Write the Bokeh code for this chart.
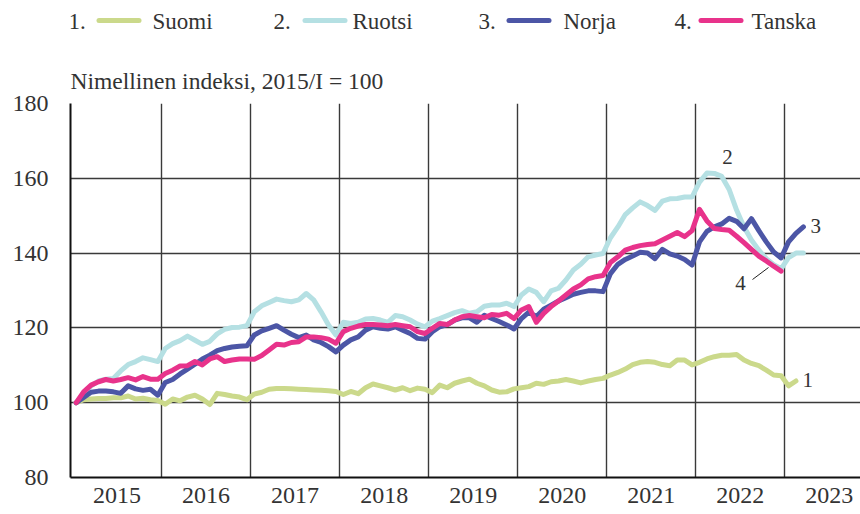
from bokeh.plotting import figure
from bokeh.layouts import column
from bokeh.models import FixedTicker, Label
from bokeh.core.properties import value
from bokeh.embed import file_html
from bokeh.resources import INLINE

# ---------------- data ----------------
series_names = ["Suomi", "Ruotsi", "Norja", "Tanska"]
series_numbers = ["1.", "2.", "3.", "4."]
end_labels = ["1", "2", "3", "4"]
year_labels = ["2015", "2016", "2017", "2018", "2019", "2020", "2021", "2022", "2023"]
y_ticks = [80, 100, 120, 140, 160, 180]
title_text = "Nimellinen indeksi, 2015/I = 100"

# monthly index values, first value = January 2015
suomi = [
    100.0, 100.8, 101.0, 101.1, 101.1, 101.3, 101.3, 101.8, 101.0, 101.2, 100.8, 100.6,
    99.6, 101.0, 100.5, 101.5, 102.0, 101.0, 99.5, 102.5, 102.2, 101.8, 101.5, 100.8,
    102.3, 102.8, 103.6, 103.8, 103.8, 103.7, 103.6, 103.5, 103.4, 103.3, 103.2, 103.0,
    102.2, 103.0, 102.4, 104.0, 105.0, 104.5, 104.0, 103.4, 104.0, 103.2, 103.9, 103.6,
    102.7, 104.7, 104.0, 105.2, 105.8, 106.3, 105.2, 104.5, 103.4, 102.8, 102.9, 103.7,
    104.0, 104.3, 105.2, 104.9, 105.6, 105.8, 106.2, 105.8, 105.3, 105.8, 106.2, 106.5,
    107.4, 108.1, 109.0, 110.2, 110.8, 111.0, 110.8, 110.2, 109.9, 111.4, 111.4, 110.1,
    110.8, 111.7, 112.3, 112.7, 112.7, 112.9, 111.4, 110.5, 109.9, 108.7, 107.4, 107.2,
    104.5, 105.8,
]
ruotsi = [
    100.0, 102.5, 104.5, 105.8, 106.3, 106.5, 108.5, 110.2, 111.0, 112.0, 111.5, 111.0,
    114.5, 115.8, 116.6, 117.8, 116.7, 115.6, 116.4, 118.4, 119.6, 120.1, 120.2, 120.6,
    124.3, 125.9, 126.8, 127.7, 127.3, 127.0, 127.5, 129.2, 127.5, 124.3, 120.8, 118.1,
    121.5, 121.2, 121.5, 122.4, 122.5, 122.1, 121.5, 123.3, 123.0, 122.1, 121.0, 120.3,
    121.8, 122.5, 123.3, 124.1, 124.6, 123.9, 124.3, 125.8, 126.1, 126.1, 126.6, 125.7,
    128.8, 130.4, 129.5, 127.0, 129.9, 130.6, 132.8, 135.5, 137.0, 139.0, 139.5, 139.9,
    144.1, 147.0, 150.3, 152.1, 153.7, 152.7, 151.4, 153.9, 154.5, 154.6, 155.0, 155.0,
    159.0, 161.4, 161.3, 160.5, 157.0, 151.5, 147.0, 143.5, 140.8, 138.5, 136.9, 135.8,
    138.8, 140.0, 140.0,
]
norja = [
    100.0, 101.4, 102.8, 103.1, 103.1, 102.9, 102.5, 104.5, 103.7, 103.3, 103.6, 102.0,
    105.4, 106.2, 107.7, 109.0, 110.3, 111.7, 112.7, 113.9, 114.5, 114.9, 115.1, 115.2,
    118.1, 119.2, 119.9, 120.6, 119.4, 118.3, 117.4, 118.1, 116.8, 116.1, 115.0, 113.6,
    115.4, 116.8, 117.6, 119.4, 120.3, 119.9, 119.7, 120.3, 119.4, 118.5, 117.2, 117.0,
    119.0, 120.3, 120.9, 122.1, 122.7, 122.7, 121.5, 123.4, 122.5, 121.7, 120.8, 119.7,
    122.5, 124.2, 123.0, 125.0, 126.1, 127.2, 128.1, 129.0, 129.5, 129.9, 129.9, 129.7,
    134.5, 137.0, 138.3, 139.2, 140.2, 140.0, 138.5, 141.0, 139.8, 139.2, 138.3, 136.8,
    143.0, 145.8, 147.0, 147.8, 149.3, 148.5, 146.5, 149.2, 146.0, 143.0, 140.3, 138.7,
    143.0, 145.3, 147.0,
]
tanska = [
    100.0, 102.9, 104.7, 105.6, 106.2, 105.8, 106.2, 106.7, 106.1, 107.0, 106.3, 106.3,
    107.8, 108.7, 109.8, 109.9, 111.0, 110.1, 111.7, 112.3, 111.0, 111.4, 111.7, 111.7,
    111.6, 112.6, 114.1, 115.6, 115.4, 116.1, 116.3, 117.6, 117.6, 117.4, 117.0, 115.9,
    119.0, 119.9, 120.5, 120.9, 120.9, 120.8, 120.6, 120.9, 120.6, 120.3, 119.0, 118.5,
    119.9, 121.2, 120.9, 122.1, 123.0, 123.3, 123.0, 122.7, 123.6, 123.4, 123.9, 122.5,
    124.8, 125.7, 121.5, 123.9, 125.7, 127.2, 128.8, 130.4, 131.5, 133.1, 133.7, 134.0,
    137.5, 139.0, 140.8, 141.5, 142.0, 142.3, 142.5, 143.5, 144.5, 145.5, 144.4, 146.0,
    151.7, 148.6, 146.6, 146.3, 146.1, 144.5, 142.8, 141.0, 139.2, 137.9, 136.5, 135.2,
]
all_series = [suomi, ruotsi, norja, tanska]

# ---------------- styles / layout ----------------
colors = ["#cbd98b", "#b5e0e3", "#4c56a6", "#e8338b"]
FONT = "Liberation Serif"
TXT = "#333333"
GRID = "#3a3a3a"

PAGE_W, PAGE_H = 860, 514
HEAD_H = 42                      # header strip (legend)
FRAME_LEFT, FRAME_TOP, FRAME_BOTTOM = 70, 103, 477  # page pixels
FRAME_W = PAGE_W - FRAME_LEFT
MONTH_PX = 7.42
X0 = -0.77
X1 = X0 + FRAME_W / MONTH_PX
Y0, Y1 = 80, 180
Y_PX = (FRAME_BOTTOM - FRAME_TOP) / (Y1 - Y0)


def px2x(px):
    return X0 + (px - FRAME_LEFT) / MONTH_PX


def py2y(py):
    return Y0 + (FRAME_BOTTOM - py) / Y_PX


# ---------------- header: legend (its frame is aligned with the chart frame) ----------------
head = figure(width=PAGE_W, height=HEAD_H, output_backend="svg", toolbar_location=None,
              x_range=(FRAME_LEFT, PAGE_W), y_range=(HEAD_H, 0),
              x_axis_location=None, y_axis_location=None,
              min_border=0, min_border_left=FRAME_LEFT, min_border_right=0,
              min_border_top=0, min_border_bottom=0)
head.outline_line_color = None
head.xgrid.visible = False
head.ygrid.visible = False
head.background_fill_color = "white"
head.border_fill_color = "white"

LEG_Y = 21
num_px = [68, 273, 478, 674]
sw_left = [98.5, 304.5, 508.5, 700.5]
SW_LEN = 40
name_px = [152, 352, 563, 751]
head.text(x=num_px, y=[LEG_Y] * 4, text=series_numbers, text_font=value(FONT),
          text_font_size=value("23px"), text_color=TXT,
          text_align="left", text_baseline="middle")
head.text(x=name_px, y=[LEG_Y] * 4, text=series_names, text_font=value(FONT),
          text_font_size=value("23px"), text_color=TXT,
          text_align="left", text_baseline="middle")
head.segment(x0=sw_left, y0=[LEG_Y - 1] * 4, x1=[s + SW_LEN for s in sw_left], y1=[LEG_Y - 1] * 4,
             line_color=colors, line_width=5, line_cap="round")

# ---------------- main chart ----------------
MAIN_H = PAGE_H - HEAD_H
p = figure(width=PAGE_W, height=MAIN_H, output_backend="svg", toolbar_location=None,
           x_range=(X0, X1), y_range=(Y0, Y1),
           min_border_left=FRAME_LEFT, min_border_right=0,
           min_border_top=FRAME_TOP - HEAD_H,
           min_border_bottom=PAGE_H - FRAME_BOTTOM)
p.outline_line_color = None
p.background_fill_color = "white"
p.border_fill_color = "white"

p.title.text = title_text
p.title.align = "left"
p.title.text_font = FONT
p.title.text_font_size = "23.5px"
p.title.text_font_style = "normal"
p.title.text_color = TXT
p.title.standoff = 20

year_mid = [5.5 + 12 * k for k in range(len(year_labels))]
p.xaxis.ticker = FixedTicker(ticks=year_mid)
p.xaxis.major_label_overrides = {t: lab for t, lab in zip(year_mid, year_labels)}
p.xgrid.ticker = FixedTicker(ticks=[11.5 + 12 * k for k in range(len(year_labels))])
p.yaxis.ticker = FixedTicker(ticks=y_ticks)
p.ygrid.ticker = FixedTicker(ticks=y_ticks)

for ax in (p.xaxis[0], p.yaxis[0]):
    ax.major_tick_line_color = None
    ax.minor_tick_line_color = None
    ax.major_tick_out = 0
    ax.major_tick_in = 0
    ax.axis_line_color = "#111111"
    ax.axis_line_width = 2
    ax.major_label_text_font = FONT
    ax.major_label_text_font_size = "24px"
    ax.major_label_text_color = TXT
p.xaxis.major_label_standoff = 10
p.yaxis.major_label_standoff = 22

for g in (p.xgrid[0], p.ygrid[0]):
    g.grid_line_color = GRID
    g.grid_line_width = 1.4

for vals, col in zip(all_series, colors):
    p.line(x=list(range(len(vals))), y=vals, line_color=col, line_width=5,
           line_join="round", line_cap="round")

# end-of-line number labels
end_pos = [(802, 379, "left"), (727, 156, "center"), (810, 225, "left"), (740, 282, "center")]
for lab, (lx, ly, al) in zip(end_labels, end_pos):
    p.add_layout(Label(x=px2x(lx), y=py2y(ly), text=lab, text_font=FONT,
                       text_font_size="21px", text_color=TXT,
                       text_align=al, text_baseline="middle"))
# leader line for label 4
p.segment(x0=[px2x(752)], y0=[py2y(279)], x1=[px2x(768)], y1=[py2y(267)],
          line_color="#222222", line_width=1)

layout = column(head, p, spacing=0)
open("out.html", "w").write(file_html(layout, INLINE))
